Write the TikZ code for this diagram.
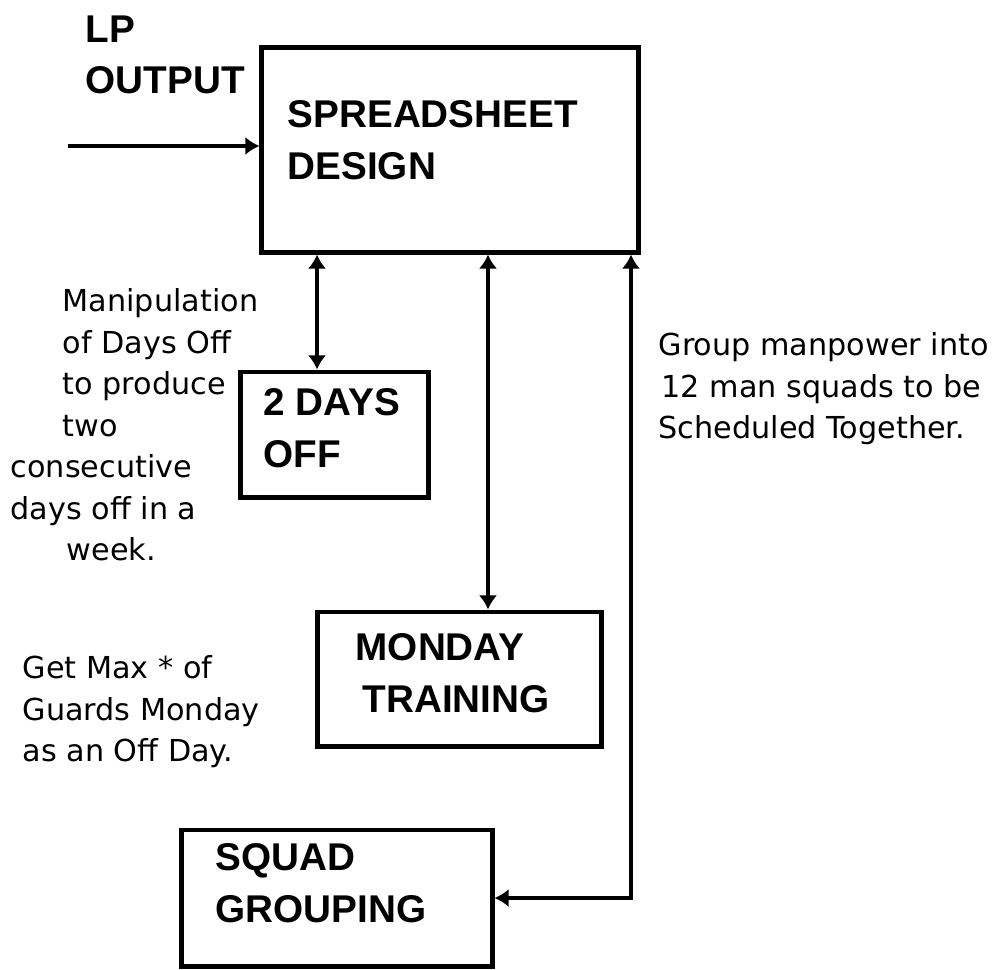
\documentclass[tikz,border=0pt]{standalone}
\usepackage{fontspec}
\setmainfont{DejaVu Sans}
\newfontfamily\boxfont{Liberation Sans}
\usetikzlibrary{arrows.meta}

\begin{document}
\begin{tikzpicture}[x=0.01cm, y=-0.01cm,
    box/.style={draw, line width=1.4pt, inner sep=0pt},
    boxtext/.style={anchor=north west, inner sep=0pt, align=left,
        font=\boxfont\bfseries\fontsize{11}{14.6}\selectfont},
    note/.style={anchor=north west, inner sep=0pt, align=left,
        font=\fontsize{8.6}{11.8}\selectfont},
    link/.style={line width=1.15pt, arrows={Latex[length=4pt, width=5.2pt]-Latex[length=4pt, width=5.2pt]}},
    feed/.style={line width=1.15pt, -{Latex[length=4pt, width=5.2pt]}}]

    \useasboundingbox (0,0) rectangle (1003,970);

    % Columns of the vertical links
    \coordinate (colA) at (317,0);
    \coordinate (colB) at (488,0);
    \coordinate (colC) at (631,0);

    % =========================================================================
    % Boxes
    % =========================================================================
    \node[box, minimum width=3.76cm, minimum height=2.04cm] (spread) at (450,150) {};
    \node[box, minimum width=1.87cm, minimum height=1.25cm] (days) at (334.5,434.5) {};
    \node[box, minimum width=2.83cm, minimum height=1.34cm] (monday) at (459.5,679) {};
    \node[box, minimum width=3.10cm, minimum height=1.36cm] (squad) at (337,898) {};

    \node[boxtext] (spreadtxt) at (287,100) {SPREADSHEET\\DESIGN};
    \node[boxtext] (daystxt) at (263,388) {2 DAYS\\OFF};
    \node[boxtext] (mondaytxt) at (355,633) {MONDAY\\\hspace*{0.07cm}TRAINING};
    \node[boxtext] (squadtxt) at (215,843) {SQUAD\\GROUPING};

    % =========================================================================
    % Input
    % =========================================================================
    \node[boxtext] (lptxt) at (85,15) {LP\\OUTPUT};
    \coordinate (lpin) at (68,146);
    \draw[feed] (lpin) -- (lpin -| spread.west);

    % =========================================================================
    % Links
    % =========================================================================
    \draw[link] (spread.south -| colA) -- (days.north -| colA);
    \draw[link] (spread.south -| colB) -- (monday.north -| colB);
    \draw[link] (spread.south -| colC) |- (squad.east);

    % =========================================================================
    % Notes
    % =========================================================================
    \node[note] (daysnote) at (10,288) {\hspace*{0.52cm}Manipulation\\
        \hspace*{0.52cm}of Days Off\\
        \hspace*{0.52cm}to produce\\
        \hspace*{0.52cm}two\\
        consecutive\\
        days off in a\\
        \hspace*{0.56cm}week.};
    \node[note] (mondaynote) at (22,655) {Get Max * of\\Guards Monday\\as an Off Day.};
    \node[note] (squadnote) at (658,332) {Group manpower into\\\hspace*{0.03cm}12 man squads to be\\Scheduled Together.};

\end{tikzpicture}
\end{document}
